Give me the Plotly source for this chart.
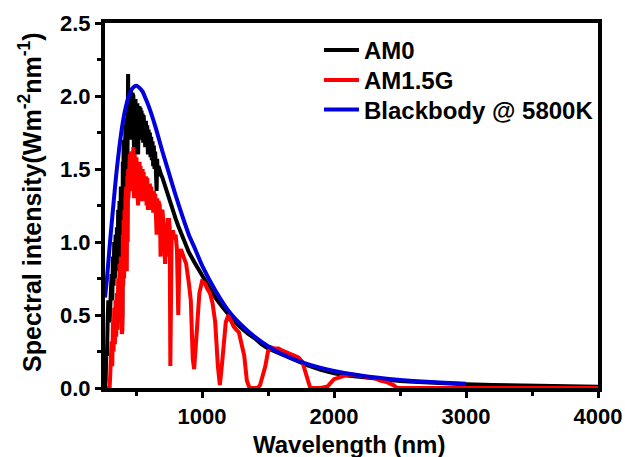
import plotly.graph_objects as go

# ---------------- data ----------------
am0_wl = [266, 270, 275, 280, 285, 290, 295, 300, 305, 310, 315, 320, 325, 330, 335, 340, 345, 350, 355, 360,
          365, 370, 375, 380, 385, 390, 393, 397, 400, 403, 406, 410, 413, 416, 420, 423, 426, 430, 434, 437,
          440, 443, 446, 450, 453, 456, 460, 463, 466, 470,
          473, 476, 480, 483, 486, 490, 493, 496, 500, 503, 506, 510, 513, 516, 520, 523, 527, 530, 534, 538,
          542, 546, 550, 554, 558, 562, 566, 570, 575, 580, 585, 590, 595, 600, 605, 610, 615, 620, 625, 630,
          635, 640, 645, 650, 656, 660, 665, 670, 680, 690, 700, 720, 740, 760, 780, 800, 820, 850, 870, 900,
          950, 1000, 1050, 1100, 1150, 1200, 1250, 1300, 1350, 1400, 1450, 1500, 1550, 1600, 1650, 1700, 1750,
          1800, 1900, 2000, 2100, 2200, 2300, 2400, 2500, 2600, 2700, 2800, 2900, 3000, 3200, 3400, 3600, 3800, 4000]
am0_val = [0.0, 0.05, 0.25, 0.22, 0.45, 0.6, 0.55, 0.45, 0.62, 0.55, 0.78, 0.6, 0.9, 0.7, 1.0, 0.75, 1.05, 0.8, 1.1, 0.85,
           1.22, 0.9, 1.28, 0.95, 1.38, 1.0, 0.4, 0.5, 1.55, 1.1, 1.7, 1.2, 1.75, 1.3, 1.8, 1.35, 1.85, 1.0, 1.88, 1.4,
           2.15, 1.7, 2.05, 1.75, 2.05, 1.7, 2.05, 1.75, 2.0, 1.7,
           2.02, 1.75, 2.0, 1.7, 1.6, 1.95, 1.7, 1.98, 1.75, 1.95, 1.7, 1.95, 1.7, 1.6, 1.9, 1.7, 1.93, 1.7, 1.92, 1.7,
           1.9, 1.7, 1.88, 1.68, 1.87, 1.68, 1.84, 1.65, 1.83, 1.65, 1.8, 1.6, 1.77, 1.62, 1.75, 1.58, 1.72, 1.56, 1.69, 1.52,
           1.66, 1.5, 1.62, 1.48, 1.35, 1.57, 1.45, 1.52, 1.48, 1.46, 1.44, 1.38, 1.32, 1.26, 1.21, 1.16, 1.11, 1.04, 0.99, 0.93,
           0.85, 0.77, 0.69, 0.62, 0.56, 0.50, 0.45, 0.41, 0.37, 0.34, 0.30, 0.27, 0.25, 0.23, 0.21, 0.19, 0.17,
           0.155, 0.125, 0.10, 0.085, 0.075, 0.065, 0.055, 0.048, 0.042, 0.036, 0.032, 0.028, 0.025, 0.02, 0.016, 0.013, 0.011, 0.009]

am15_wl = [280, 295, 300, 305, 310, 315, 320, 325, 330, 335, 340, 345, 350, 355, 360, 365, 370, 375, 380, 385,
           390, 393, 397, 400, 403, 406, 410, 413, 416, 420, 423, 426, 430, 434, 437,
           440, 443, 446, 450, 453, 456, 460, 463, 466, 470,
           473, 476, 480, 483, 486, 490, 493, 496, 500, 503, 506, 510, 513, 516, 520, 523, 527, 530, 534, 538,
           542, 546, 550, 554, 558, 562, 566, 570, 575, 580, 585, 590, 595, 600, 605, 610, 615, 620, 625, 630,
           635, 640, 645, 650, 656, 660, 665, 670, 680, 686, 690, 700, 710, 720, 725, 730, 740, 750, 755, 760,
           765, 770, 780, 790, 800, 810, 820, 830, 840, 860, 880, 900, 915, 930, 940, 950, 965, 980,
           1000, 1020, 1040, 1060, 1080, 1100, 1120, 1135, 1150, 1165, 1180, 1200, 1220, 1240, 1260, 1280,
           1300, 1320, 1340, 1360, 1400, 1420, 1440, 1460, 1480, 1500, 1520, 1550, 1580, 1600, 1630, 1660,
           1700, 1730, 1760, 1780, 1800, 1820, 1900, 1950, 1970, 2000, 2030, 2060, 2100, 2150, 2200, 2250,
           2300, 2350, 2400, 2450, 2480, 2600, 3000, 3500, 4000]
am15_val = [0.0, 0.0, 0.0, 0.1, 0.2, 0.32, 0.15, 0.45, 0.25, 0.55, 0.3, 0.6, 0.35, 0.65, 0.4, 0.75, 0.45, 0.85, 0.5, 0.9,
            0.55, 0.37, 0.4, 1.05, 0.7, 1.15, 0.75, 1.22, 0.85, 1.3, 0.9, 1.38, 0.8, 1.45, 1.0,
            1.5, 1.3, 1.55, 1.35, 1.6, 1.4, 1.62, 1.4, 1.6, 1.35,
            1.63, 1.4, 1.65, 1.35, 1.3, 1.6, 1.35, 1.6, 1.35, 1.58, 1.35, 1.57, 1.3, 1.25, 1.55, 1.3, 1.55, 1.3, 1.52, 1.3,
            1.5, 1.28, 1.5, 1.3, 1.48, 1.28, 1.45, 1.28, 1.45, 1.25, 1.44, 1.22, 1.4, 1.25, 1.4, 1.22, 1.38, 1.25, 1.35, 1.2,
            1.35, 1.22, 1.33, 1.2, 1.05, 1.3, 1.15, 1.28, 1.25, 0.9, 1.2, 1.22, 1.1, 0.85, 1.0, 0.9, 1.15, 1.15, 1.1, 0.15,
            0.6, 1.05, 1.08, 1.02, 1.05, 0.95, 0.5, 0.92, 0.95, 0.9, 0.85, 0.72, 0.6, 0.2, 0.13, 0.25, 0.5, 0.65,
            0.73, 0.72, 0.68, 0.65, 0.58, 0.45, 0.15, 0.02, 0.15, 0.35, 0.45, 0.5, 0.45, 0.42, 0.40, 0.38,
            0.30, 0.22, 0.05, 0.0, 0.0, 0.0, 0.02, 0.08, 0.15, 0.25, 0.28, 0.27, 0.27, 0.26, 0.25, 0.24,
            0.22, 0.21, 0.18, 0.12, 0.04, 0.0, 0.0, 0.01, 0.03, 0.06, 0.07, 0.08, 0.09, 0.09, 0.08, 0.075,
            0.07, 0.05, 0.04, 0.02, 0.0, 0.0, 0.0, 0.0, 0.0]

bb_wl = [265, 280, 300, 330, 350, 375, 400, 420, 450, 475, 500, 525, 550, 575, 600, 650, 700, 750, 800, 850, 900,
         950, 1000, 1100, 1200, 1300, 1400, 1500, 1600, 1800, 2000, 2200, 2400, 2600, 2800, 3000]
bb_val = [0.62, 0.75, 0.97, 1.27, 1.46, 1.66, 1.82, 1.915, 2.01, 2.055, 2.07, 2.057, 2.03, 1.977, 1.92, 1.78, 1.62,
          1.47, 1.32, 1.18, 1.05, 0.947, 0.84, 0.67, 0.53, 0.43, 0.35, 0.286, 0.235, 0.163, 0.117, 0.085, 0.064,
          0.048, 0.037, 0.029]

names = ["AM0", "AM1.5G", "Blackbody @ 5800K"]
colors = ["#000000", "#ff0000", "#0000dd"]

x_ticks = [1000, 2000, 3000, 4000]
y_ticks = [0.0, 0.5, 1.0, 1.5, 2.0, 2.5]
x_title = "Wavelength (nm)"
y_title = "Spectral intensity(Wm<sup>-2</sup>nm<sup>-1</sup>)"

# ---------------- figure ----------------
font_family = "Liberation Sans, Arial, sans-serif"
legend_ids = ["legend", "legend2", "legend3"]
legend_rows = [0.925, 0.843, 0.762]   # vertical placement of the three legend rows (paper units)

fig = go.Figure()
for wl, val, nm, col, lg in zip([am0_wl, am15_wl, bb_wl], [am0_val, am15_val, bb_val], names, colors, legend_ids):
    fig.add_trace(go.Scatter(x=wl, y=val, mode="lines", name=f"<b>{nm}</b>",
                             line=dict(color=col, width=4, shape="spline" if lg == "legend3" else "linear",
                                       smoothing=0.6), legend=lg))

legend_style = dict(x=0.434, xanchor="left", yanchor="middle", bgcolor="rgba(0,0,0,0)",
                    font=dict(size=24, family=font_family), itemwidth=35)
fig.update_layout(
    width=625, height=457,
    margin=dict(l=105, r=27, t=23, b=69, autoexpand=False),
    paper_bgcolor="white", plot_bgcolor="white",
    font=dict(family=font_family, color="black", size=22),
    showlegend=True,
    legend=dict(y=legend_rows[0], **legend_style),
    legend2=dict(y=legend_rows[1], **legend_style),
    legend3=dict(y=legend_rows[2], **legend_style),
)
axis_common = dict(
    showline=True, linewidth=4, linecolor="black", mirror=True,
    ticks="outside", ticklen=6, tickwidth=3, tickcolor="black",
    showgrid=False, zeroline=False, tickfont=dict(size=22), automargin=False,
)
fig.update_xaxes(
    range=[265, 4000], tickvals=x_ticks, ticktext=[f"<b>{v}</b>" for v in x_ticks],
    minor=dict(tickvals=[500, 1500, 2500, 3500], ticks="outside", ticklen=4, tickwidth=3, tickcolor="black"),
    **axis_common,
)
fig.update_yaxes(
    range=[0, 2.5], tickvals=y_ticks, ticktext=[f"<b>{v:.1f}</b>" for v in y_ticks],
    minor=dict(tickvals=[0.25, 0.75, 1.25, 1.75, 2.25], ticks="outside", ticklen=4, tickwidth=3, tickcolor="black"),
    **axis_common,
)
fig.add_annotation(text=f"<b>{x_title}</b>", xref="paper", yref="paper", x=0.495, y=-0.156,
                   xanchor="center", yanchor="middle", showarrow=False, font=dict(size=24))
fig.add_annotation(text=f"<b>{y_title}</b>", xref="paper", yref="paper", x=-0.152, y=0.51,
                   xanchor="center", yanchor="middle", textangle=-90, showarrow=False, font=dict(size=25))

fig.write_html("out.html")
